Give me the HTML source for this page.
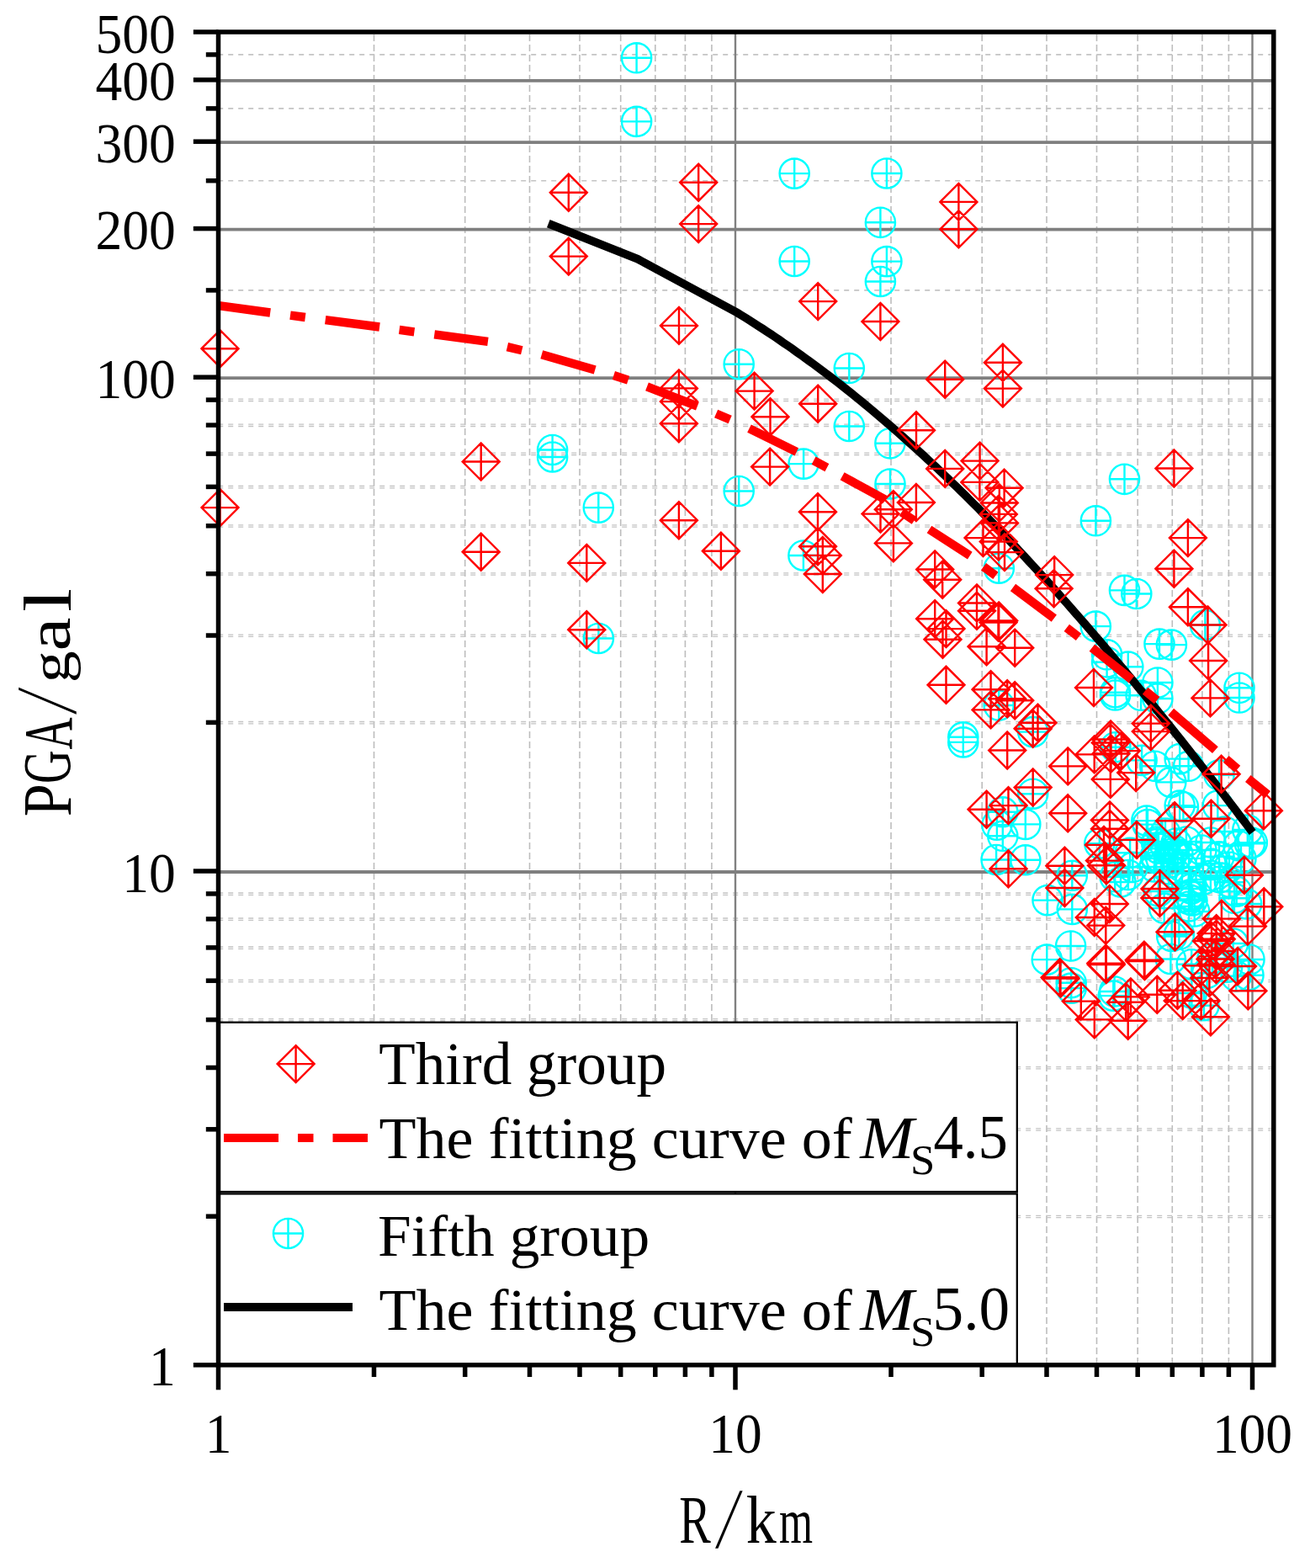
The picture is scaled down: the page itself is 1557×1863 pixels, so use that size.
<!DOCTYPE html><html><head><meta charset="utf-8"><style>html,body{margin:0;padding:0;background:#fff;}svg{display:block;}text{font-family:"Liberation Serif",serif;}</style></head><body>
<svg width="1557" height="1863" viewBox="0 0 1557 1863">
<rect x="0" y="0" width="1557" height="1863" fill="#fff"/>
<g id="grid"><line x1="444.5" y1="41.0" x2="444.5" y2="1618.8" stroke="#bdbdbd" stroke-width="1.6" stroke-dasharray="8 4"/><line x1="552.7" y1="41.0" x2="552.7" y2="1618.8" stroke="#bdbdbd" stroke-width="1.6" stroke-dasharray="8 4"/><line x1="629.5" y1="41.0" x2="629.5" y2="1618.8" stroke="#bdbdbd" stroke-width="1.6" stroke-dasharray="8 4"/><line x1="689.0" y1="41.0" x2="689.0" y2="1618.8" stroke="#bdbdbd" stroke-width="1.6" stroke-dasharray="8 4"/><line x1="737.7" y1="41.0" x2="737.7" y2="1618.8" stroke="#bdbdbd" stroke-width="1.6" stroke-dasharray="8 4"/><line x1="778.8" y1="41.0" x2="778.8" y2="1618.8" stroke="#bdbdbd" stroke-width="1.6" stroke-dasharray="8 4"/><line x1="814.4" y1="41.0" x2="814.4" y2="1618.8" stroke="#bdbdbd" stroke-width="1.6" stroke-dasharray="8 4"/><line x1="845.9" y1="41.0" x2="845.9" y2="1618.8" stroke="#bdbdbd" stroke-width="1.6" stroke-dasharray="8 4"/><line x1="1059.0" y1="41.0" x2="1059.0" y2="1618.8" stroke="#bdbdbd" stroke-width="1.6" stroke-dasharray="8 4"/><line x1="1167.2" y1="41.0" x2="1167.2" y2="1618.8" stroke="#bdbdbd" stroke-width="1.6" stroke-dasharray="8 4"/><line x1="1244.0" y1="41.0" x2="1244.0" y2="1618.8" stroke="#bdbdbd" stroke-width="1.6" stroke-dasharray="8 4"/><line x1="1303.5" y1="41.0" x2="1303.5" y2="1618.8" stroke="#bdbdbd" stroke-width="1.6" stroke-dasharray="8 4"/><line x1="1352.2" y1="41.0" x2="1352.2" y2="1618.8" stroke="#bdbdbd" stroke-width="1.6" stroke-dasharray="8 4"/><line x1="1393.3" y1="41.0" x2="1393.3" y2="1618.8" stroke="#bdbdbd" stroke-width="1.6" stroke-dasharray="8 4"/><line x1="1428.9" y1="41.0" x2="1428.9" y2="1618.8" stroke="#bdbdbd" stroke-width="1.6" stroke-dasharray="8 4"/><line x1="1460.4" y1="41.0" x2="1460.4" y2="1618.8" stroke="#bdbdbd" stroke-width="1.6" stroke-dasharray="8 4"/><line x1="259.2" y1="1444.3" x2="1510.8" y2="1444.3" stroke="#c4c4c4" stroke-width="1.3" stroke-dasharray="6 6"/><line x1="259.2" y1="1446.6" x2="1510.8" y2="1446.6" stroke="#c4c4c4" stroke-width="1.3" stroke-dasharray="6 6"/><line x1="259.2" y1="1340.9" x2="1510.8" y2="1340.9" stroke="#c4c4c4" stroke-width="1.3" stroke-dasharray="6 6"/><line x1="259.2" y1="1343.2" x2="1510.8" y2="1343.2" stroke="#c4c4c4" stroke-width="1.3" stroke-dasharray="6 6"/><line x1="259.2" y1="1267.6" x2="1510.8" y2="1267.6" stroke="#c4c4c4" stroke-width="1.3" stroke-dasharray="6 6"/><line x1="259.2" y1="1269.9" x2="1510.8" y2="1269.9" stroke="#c4c4c4" stroke-width="1.3" stroke-dasharray="6 6"/><line x1="259.2" y1="1210.7" x2="1510.8" y2="1210.7" stroke="#c4c4c4" stroke-width="1.3" stroke-dasharray="6 6"/><line x1="259.2" y1="1213.0" x2="1510.8" y2="1213.0" stroke="#c4c4c4" stroke-width="1.3" stroke-dasharray="6 6"/><line x1="259.2" y1="1164.3" x2="1510.8" y2="1164.3" stroke="#c4c4c4" stroke-width="1.3" stroke-dasharray="6 6"/><line x1="259.2" y1="1166.6" x2="1510.8" y2="1166.6" stroke="#c4c4c4" stroke-width="1.3" stroke-dasharray="6 6"/><line x1="259.2" y1="1125.0" x2="1510.8" y2="1125.0" stroke="#c4c4c4" stroke-width="1.3" stroke-dasharray="6 6"/><line x1="259.2" y1="1127.3" x2="1510.8" y2="1127.3" stroke="#c4c4c4" stroke-width="1.3" stroke-dasharray="6 6"/><line x1="259.2" y1="1091.0" x2="1510.8" y2="1091.0" stroke="#c4c4c4" stroke-width="1.3" stroke-dasharray="6 6"/><line x1="259.2" y1="1093.3" x2="1510.8" y2="1093.3" stroke="#c4c4c4" stroke-width="1.3" stroke-dasharray="6 6"/><line x1="259.2" y1="1061.0" x2="1510.8" y2="1061.0" stroke="#c4c4c4" stroke-width="1.3" stroke-dasharray="6 6"/><line x1="259.2" y1="1063.3" x2="1510.8" y2="1063.3" stroke="#c4c4c4" stroke-width="1.3" stroke-dasharray="6 6"/><line x1="259.2" y1="857.5" x2="1510.8" y2="857.5" stroke="#c4c4c4" stroke-width="1.3" stroke-dasharray="6 6"/><line x1="259.2" y1="859.8" x2="1510.8" y2="859.8" stroke="#c4c4c4" stroke-width="1.3" stroke-dasharray="6 6"/><line x1="259.2" y1="754.1" x2="1510.8" y2="754.1" stroke="#c4c4c4" stroke-width="1.3" stroke-dasharray="6 6"/><line x1="259.2" y1="756.4" x2="1510.8" y2="756.4" stroke="#c4c4c4" stroke-width="1.3" stroke-dasharray="6 6"/><line x1="259.2" y1="680.8" x2="1510.8" y2="680.8" stroke="#c4c4c4" stroke-width="1.3" stroke-dasharray="6 6"/><line x1="259.2" y1="683.1" x2="1510.8" y2="683.1" stroke="#c4c4c4" stroke-width="1.3" stroke-dasharray="6 6"/><line x1="259.2" y1="623.9" x2="1510.8" y2="623.9" stroke="#c4c4c4" stroke-width="1.3" stroke-dasharray="6 6"/><line x1="259.2" y1="626.2" x2="1510.8" y2="626.2" stroke="#c4c4c4" stroke-width="1.3" stroke-dasharray="6 6"/><line x1="259.2" y1="577.5" x2="1510.8" y2="577.5" stroke="#c4c4c4" stroke-width="1.3" stroke-dasharray="6 6"/><line x1="259.2" y1="579.8" x2="1510.8" y2="579.8" stroke="#c4c4c4" stroke-width="1.3" stroke-dasharray="6 6"/><line x1="259.2" y1="538.2" x2="1510.8" y2="538.2" stroke="#c4c4c4" stroke-width="1.3" stroke-dasharray="6 6"/><line x1="259.2" y1="540.5" x2="1510.8" y2="540.5" stroke="#c4c4c4" stroke-width="1.3" stroke-dasharray="6 6"/><line x1="259.2" y1="504.2" x2="1510.8" y2="504.2" stroke="#c4c4c4" stroke-width="1.3" stroke-dasharray="6 6"/><line x1="259.2" y1="506.5" x2="1510.8" y2="506.5" stroke="#c4c4c4" stroke-width="1.3" stroke-dasharray="6 6"/><line x1="259.2" y1="474.2" x2="1510.8" y2="474.2" stroke="#c4c4c4" stroke-width="1.3" stroke-dasharray="6 6"/><line x1="259.2" y1="476.5" x2="1510.8" y2="476.5" stroke="#c4c4c4" stroke-width="1.3" stroke-dasharray="6 6"/><line x1="259.2" y1="344.9" x2="1510.8" y2="344.9" stroke="#c4c4c4" stroke-width="1.6" stroke-dasharray="6 6"/><line x1="259.2" y1="214.7" x2="1510.8" y2="214.7" stroke="#c4c4c4" stroke-width="1.6" stroke-dasharray="6 6"/><line x1="259.2" y1="128.9" x2="1510.8" y2="128.9" stroke="#c4c4c4" stroke-width="1.6" stroke-dasharray="6 6"/><line x1="259.2" y1="64.9" x2="1510.8" y2="64.9" stroke="#c4c4c4" stroke-width="1.6" stroke-dasharray="6 6"/><line x1="874.0" y1="38.0" x2="874.0" y2="1621.8" stroke="#808080" stroke-width="2.4"/><line x1="1488.5" y1="38.0" x2="1488.5" y2="1621.8" stroke="#808080" stroke-width="2.4"/><line x1="259.5" y1="1036.0" x2="1513.8" y2="1036.0" stroke="#7f7f7f" stroke-width="3.8"/><line x1="259.5" y1="449.2" x2="1513.8" y2="449.2" stroke="#7f7f7f" stroke-width="3.8"/><line x1="259.5" y1="272.6" x2="1513.8" y2="272.6" stroke="#7f7f7f" stroke-width="3.8"/><line x1="259.5" y1="169.2" x2="1513.8" y2="169.2" stroke="#7f7f7f" stroke-width="3.8"/><line x1="259.5" y1="95.9" x2="1513.8" y2="95.9" stroke="#7f7f7f" stroke-width="3.8"/></g>
<defs><clipPath id="pc"><rect x="259.5" y="38.0" width="1254.3" height="1583.8"/></clipPath></defs>
<path d="M639.0 534.5a17.6 17.6 0 1 0 35.2 0a17.6 17.6 0 1 0 -35.2 0ZM639.0 534.5H674.2M656.6 516.9V552.1M639.0 543.0a17.6 17.6 0 1 0 35.2 0a17.6 17.6 0 1 0 -35.2 0ZM639.0 543.0H674.2M656.6 525.4V560.6M693.7 603.1a17.6 17.6 0 1 0 35.2 0a17.6 17.6 0 1 0 -35.2 0ZM693.7 603.1H728.9M711.3 585.5V620.7M693.8 758.5a17.6 17.6 0 1 0 35.2 0a17.6 17.6 0 1 0 -35.2 0ZM693.8 758.5H729.0M711.4 740.9V776.1M739.0 68.8a17.6 17.6 0 1 0 35.2 0a17.6 17.6 0 1 0 -35.2 0ZM739.0 68.8H774.2M756.6 51.2V86.4M739.0 144.4a17.6 17.6 0 1 0 35.2 0a17.6 17.6 0 1 0 -35.2 0ZM739.0 144.4H774.2M756.6 126.8V162.0M926.6 206.1a17.6 17.6 0 1 0 35.2 0a17.6 17.6 0 1 0 -35.2 0ZM926.6 206.1H961.8M944.2 188.5V223.7M926.6 310.5a17.6 17.6 0 1 0 35.2 0a17.6 17.6 0 1 0 -35.2 0ZM926.6 310.5H961.8M944.2 292.9V328.1M1036.3 206.0a17.6 17.6 0 1 0 35.2 0a17.6 17.6 0 1 0 -35.2 0ZM1036.3 206.0H1071.5M1053.9 188.4V223.6M1028.8 264.3a17.6 17.6 0 1 0 35.2 0a17.6 17.6 0 1 0 -35.2 0ZM1028.8 264.3H1064.0M1046.4 246.7V281.9M1036.3 310.6a17.6 17.6 0 1 0 35.2 0a17.6 17.6 0 1 0 -35.2 0ZM1036.3 310.6H1071.5M1053.9 293.0V328.2M1028.8 334.5a17.6 17.6 0 1 0 35.2 0a17.6 17.6 0 1 0 -35.2 0ZM1028.8 334.5H1064.0M1046.4 316.9V352.1M991.7 437.5a17.6 17.6 0 1 0 35.2 0a17.6 17.6 0 1 0 -35.2 0ZM991.7 437.5H1026.9M1009.3 419.9V455.1M991.7 506.5a17.6 17.6 0 1 0 35.2 0a17.6 17.6 0 1 0 -35.2 0ZM991.7 506.5H1026.9M1009.3 488.9V524.1M860.6 432.7a17.6 17.6 0 1 0 35.2 0a17.6 17.6 0 1 0 -35.2 0ZM860.6 432.7H895.8M878.2 415.1V450.3M860.6 583.5a17.6 17.6 0 1 0 35.2 0a17.6 17.6 0 1 0 -35.2 0ZM860.6 583.5H895.8M878.2 565.9V601.1M937.5 551.1a17.6 17.6 0 1 0 35.2 0a17.6 17.6 0 1 0 -35.2 0ZM937.5 551.1H972.7M955.1 533.5V568.7M937.3 660.0a17.6 17.6 0 1 0 35.2 0a17.6 17.6 0 1 0 -35.2 0ZM937.3 660.0H972.5M954.9 642.4V677.6M1040.3 526.8a17.6 17.6 0 1 0 35.2 0a17.6 17.6 0 1 0 -35.2 0ZM1040.3 526.8H1075.5M1057.9 509.2V544.4M1040.4 575.0a17.6 17.6 0 1 0 35.2 0a17.6 17.6 0 1 0 -35.2 0ZM1040.4 575.0H1075.6M1058.0 557.4V592.6M1169.7 675.2a17.6 17.6 0 1 0 35.2 0a17.6 17.6 0 1 0 -35.2 0ZM1169.7 675.2H1204.9M1187.3 657.6V692.8M1318.9 569.3a17.6 17.6 0 1 0 35.2 0a17.6 17.6 0 1 0 -35.2 0ZM1318.9 569.3H1354.1M1336.5 551.7V586.9M1284.8 618.8a17.6 17.6 0 1 0 35.2 0a17.6 17.6 0 1 0 -35.2 0ZM1284.8 618.8H1320.0M1302.4 601.2V636.4M1318.9 701.4a17.6 17.6 0 1 0 35.2 0a17.6 17.6 0 1 0 -35.2 0ZM1318.9 701.4H1354.1M1336.5 683.8V719.0M1333.2 705.5a17.6 17.6 0 1 0 35.2 0a17.6 17.6 0 1 0 -35.2 0ZM1333.2 705.5H1368.4M1350.8 687.9V723.1M1414.8 742.5a17.6 17.6 0 1 0 35.2 0a17.6 17.6 0 1 0 -35.2 0ZM1414.8 742.5H1450.0M1432.4 724.9V760.1M1284.7 744.1a17.6 17.6 0 1 0 35.2 0a17.6 17.6 0 1 0 -35.2 0ZM1284.7 744.1H1319.9M1302.3 726.5V761.7M1360.4 765.1a17.6 17.6 0 1 0 35.2 0a17.6 17.6 0 1 0 -35.2 0ZM1360.4 765.1H1395.6M1378.0 747.5V782.7M1374.8 766.1a17.6 17.6 0 1 0 35.2 0a17.6 17.6 0 1 0 -35.2 0ZM1374.8 766.1H1410.0M1392.4 748.5V783.7M1169.6 838.0a17.6 17.6 0 1 0 35.2 0a17.6 17.6 0 1 0 -35.2 0ZM1169.6 838.0H1204.8M1187.2 820.4V855.6M1127.2 875.8a17.6 17.6 0 1 0 35.2 0a17.6 17.6 0 1 0 -35.2 0ZM1127.2 875.8H1162.4M1144.8 858.2V893.4M1127.2 881.9a17.6 17.6 0 1 0 35.2 0a17.6 17.6 0 1 0 -35.2 0ZM1127.2 881.9H1162.4M1144.8 864.3V899.5M1210.1 869.6a17.6 17.6 0 1 0 35.2 0a17.6 17.6 0 1 0 -35.2 0ZM1210.1 869.6H1245.3M1227.7 852.0V887.2M1210.1 943.2a17.6 17.6 0 1 0 35.2 0a17.6 17.6 0 1 0 -35.2 0ZM1210.1 943.2H1245.3M1227.7 925.6V960.8M1174.2 964.8a17.6 17.6 0 1 0 35.2 0a17.6 17.6 0 1 0 -35.2 0ZM1174.2 964.8H1209.4M1191.8 947.2V982.4M1167.3 980.2a17.6 17.6 0 1 0 35.2 0a17.6 17.6 0 1 0 -35.2 0ZM1167.3 980.2H1202.5M1184.9 962.6V997.8M1201.2 979.4a17.6 17.6 0 1 0 35.2 0a17.6 17.6 0 1 0 -35.2 0ZM1201.2 979.4H1236.4M1218.8 961.8V997.0M1174.2 993.3a17.6 17.6 0 1 0 35.2 0a17.6 17.6 0 1 0 -35.2 0ZM1174.2 993.3H1209.4M1191.8 975.7V1010.9M1166.5 1021.5a17.6 17.6 0 1 0 35.2 0a17.6 17.6 0 1 0 -35.2 0ZM1166.5 1021.5H1201.7M1184.1 1003.9V1039.1M1201.2 1021.8a17.6 17.6 0 1 0 35.2 0a17.6 17.6 0 1 0 -35.2 0ZM1201.2 1021.8H1236.4M1218.8 1004.2V1039.4M1227.4 1069.6a17.6 17.6 0 1 0 35.2 0a17.6 17.6 0 1 0 -35.2 0ZM1227.4 1069.6H1262.6M1245.0 1052.0V1087.2M1256.7 1040.3a17.6 17.6 0 1 0 35.2 0a17.6 17.6 0 1 0 -35.2 0ZM1256.7 1040.3H1291.9M1274.3 1022.7V1057.9M1256.7 1080.4a17.6 17.6 0 1 0 35.2 0a17.6 17.6 0 1 0 -35.2 0ZM1256.7 1080.4H1291.9M1274.3 1062.8V1098.0M1307.6 1041.8a17.6 17.6 0 1 0 35.2 0a17.6 17.6 0 1 0 -35.2 0ZM1307.6 1041.8H1342.8M1325.2 1024.2V1059.4M1328.8 1030.3a17.6 17.6 0 1 0 35.2 0a17.6 17.6 0 1 0 -35.2 0ZM1328.8 1030.3H1364.0M1346.4 1012.7V1047.9M1255.0 1124.0a17.6 17.6 0 1 0 35.2 0a17.6 17.6 0 1 0 -35.2 0ZM1255.0 1124.0H1290.2M1272.6 1106.4V1141.6M1226.7 1140.1a17.6 17.6 0 1 0 35.2 0a17.6 17.6 0 1 0 -35.2 0ZM1226.7 1140.1H1261.9M1244.3 1122.5V1157.7M1255.6 1167.7a17.6 17.6 0 1 0 35.2 0a17.6 17.6 0 1 0 -35.2 0ZM1255.6 1167.7H1290.8M1273.2 1150.1V1185.3M1255.6 1174.1a17.6 17.6 0 1 0 35.2 0a17.6 17.6 0 1 0 -35.2 0ZM1255.6 1174.1H1290.8M1273.2 1156.5V1191.7M1307.0 1178.0a17.6 17.6 0 1 0 35.2 0a17.6 17.6 0 1 0 -35.2 0ZM1307.0 1178.0H1342.2M1324.6 1160.4V1195.6M1305.7 1183.1a17.6 17.6 0 1 0 35.2 0a17.6 17.6 0 1 0 -35.2 0ZM1305.7 1183.1H1340.9M1323.3 1165.5V1200.7M1366.1 1079.1a17.6 17.6 0 1 0 35.2 0a17.6 17.6 0 1 0 -35.2 0ZM1366.1 1079.1H1401.3M1383.7 1061.5V1096.7M1373.8 1139.5a17.6 17.6 0 1 0 35.2 0a17.6 17.6 0 1 0 -35.2 0ZM1373.8 1139.5H1409.0M1391.4 1121.9V1157.1M1375.1 1112.5a17.6 17.6 0 1 0 35.2 0a17.6 17.6 0 1 0 -35.2 0ZM1375.1 1112.5H1410.3M1392.7 1094.9V1130.1M1308.3 887.7a17.6 17.6 0 1 0 35.2 0a17.6 17.6 0 1 0 -35.2 0ZM1308.3 887.7H1343.5M1325.9 870.1V905.3M1339.5 903.4a17.6 17.6 0 1 0 35.2 0a17.6 17.6 0 1 0 -35.2 0ZM1339.5 903.4H1374.7M1357.1 885.8V921.0M1355.1 910.3a17.6 17.6 0 1 0 35.2 0a17.6 17.6 0 1 0 -35.2 0ZM1355.1 910.3H1390.3M1372.7 892.7V927.9M1374.2 929.4a17.6 17.6 0 1 0 35.2 0a17.6 17.6 0 1 0 -35.2 0ZM1374.2 929.4H1409.4M1391.8 911.8V947.0M1384.6 901.6a17.6 17.6 0 1 0 35.2 0a17.6 17.6 0 1 0 -35.2 0ZM1384.6 901.6H1419.8M1402.2 884.0V919.2M1395.0 910.3a17.6 17.6 0 1 0 35.2 0a17.6 17.6 0 1 0 -35.2 0ZM1395.0 910.3H1430.2M1412.6 892.7V927.9M1384.6 957.1a17.6 17.6 0 1 0 35.2 0a17.6 17.6 0 1 0 -35.2 0ZM1384.6 957.1H1419.8M1402.2 939.5V974.7M1431.4 920.7a17.6 17.6 0 1 0 35.2 0a17.6 17.6 0 1 0 -35.2 0ZM1431.4 920.7H1466.6M1449.0 903.1V938.3M1429.7 957.1a17.6 17.6 0 1 0 35.2 0a17.6 17.6 0 1 0 -35.2 0ZM1429.7 957.1H1464.9M1447.3 939.5V974.7M1346.4 979.6a17.6 17.6 0 1 0 35.2 0a17.6 17.6 0 1 0 -35.2 0ZM1346.4 979.6H1381.6M1364.0 962.0V997.2M1467.8 1002.2a17.6 17.6 0 1 0 35.2 0a17.6 17.6 0 1 0 -35.2 0ZM1467.8 1002.2H1503.0M1485.4 984.6V1019.8M1289.2 1002.2a17.6 17.6 0 1 0 35.2 0a17.6 17.6 0 1 0 -35.2 0ZM1289.2 1002.2H1324.4M1306.8 984.6V1019.8M1357.4 1000.0a17.6 17.6 0 1 0 35.2 0a17.6 17.6 0 1 0 -35.2 0ZM1357.4 1000.0H1392.6M1375.0 982.4V1017.6M1367.4 1005.0a17.6 17.6 0 1 0 35.2 0a17.6 17.6 0 1 0 -35.2 0ZM1367.4 1005.0H1402.6M1385.0 987.4V1022.6M1377.4 1010.0a17.6 17.6 0 1 0 35.2 0a17.6 17.6 0 1 0 -35.2 0ZM1377.4 1010.0H1412.6M1395.0 992.4V1027.6M1362.4 1020.0a17.6 17.6 0 1 0 35.2 0a17.6 17.6 0 1 0 -35.2 0ZM1362.4 1020.0H1397.6M1380.0 1002.4V1037.6M1372.4 1025.0a17.6 17.6 0 1 0 35.2 0a17.6 17.6 0 1 0 -35.2 0ZM1372.4 1025.0H1407.6M1390.0 1007.4V1042.6M1382.4 1015.0a17.6 17.6 0 1 0 35.2 0a17.6 17.6 0 1 0 -35.2 0ZM1382.4 1015.0H1417.6M1400.0 997.4V1032.6M1387.4 1030.0a17.6 17.6 0 1 0 35.2 0a17.6 17.6 0 1 0 -35.2 0ZM1387.4 1030.0H1422.6M1405.0 1012.4V1047.6M1354.4 1030.0a17.6 17.6 0 1 0 35.2 0a17.6 17.6 0 1 0 -35.2 0ZM1354.4 1030.0H1389.6M1372.0 1012.4V1047.6M1392.4 1000.0a17.6 17.6 0 1 0 35.2 0a17.6 17.6 0 1 0 -35.2 0ZM1392.4 1000.0H1427.6M1410.0 982.4V1017.6M1367.4 990.0a17.6 17.6 0 1 0 35.2 0a17.6 17.6 0 1 0 -35.2 0ZM1367.4 990.0H1402.6M1385.0 972.4V1007.6M1345.2 975.1a17.6 17.6 0 1 0 35.2 0a17.6 17.6 0 1 0 -35.2 0ZM1345.2 975.1H1380.4M1362.8 957.5V992.7M1388.8 958.7a17.6 17.6 0 1 0 35.2 0a17.6 17.6 0 1 0 -35.2 0ZM1388.8 958.7H1424.0M1406.4 941.1V976.3M1395.4 1019.9a17.6 17.6 0 1 0 35.2 0a17.6 17.6 0 1 0 -35.2 0ZM1395.4 1019.9H1430.6M1413.0 1002.3V1037.5M1431.4 1017.7a17.6 17.6 0 1 0 35.2 0a17.6 17.6 0 1 0 -35.2 0ZM1431.4 1017.7H1466.6M1449.0 1000.1V1035.3M1432.4 1042.8a17.6 17.6 0 1 0 35.2 0a17.6 17.6 0 1 0 -35.2 0ZM1432.4 1042.8H1467.6M1450.0 1025.2V1060.4M1454.3 1004.6a17.6 17.6 0 1 0 35.2 0a17.6 17.6 0 1 0 -35.2 0ZM1454.3 1004.6H1489.5M1471.9 987.0V1022.2M1470.7 1001.3a17.6 17.6 0 1 0 35.2 0a17.6 17.6 0 1 0 -35.2 0ZM1470.7 1001.3H1505.9M1488.3 983.7V1018.9M1452.1 1059.2a17.6 17.6 0 1 0 35.2 0a17.6 17.6 0 1 0 -35.2 0ZM1452.1 1059.2H1487.3M1469.7 1041.6V1076.8M1323.3 1039.5a17.6 17.6 0 1 0 35.2 0a17.6 17.6 0 1 0 -35.2 0ZM1323.3 1039.5H1358.5M1340.9 1021.9V1057.1M1325.5 1013.3a17.6 17.6 0 1 0 35.2 0a17.6 17.6 0 1 0 -35.2 0ZM1325.5 1013.3H1360.7M1343.1 995.7V1030.9M1314.4 1048.0a17.6 17.6 0 1 0 35.2 0a17.6 17.6 0 1 0 -35.2 0ZM1314.4 1048.0H1349.6M1332.0 1030.4V1065.6M1397.4 1064.6a17.6 17.6 0 1 0 35.2 0a17.6 17.6 0 1 0 -35.2 0ZM1397.4 1064.6H1432.6M1415.0 1047.0V1082.2M1359.4 1059.0a17.6 17.6 0 1 0 35.2 0a17.6 17.6 0 1 0 -35.2 0ZM1359.4 1059.0H1394.6M1377.0 1041.4V1076.6M1298.0 777.8a17.6 17.6 0 1 0 35.2 0a17.6 17.6 0 1 0 -35.2 0ZM1298.0 777.8H1333.2M1315.6 760.2V795.4M1298.0 786.8a17.6 17.6 0 1 0 35.2 0a17.6 17.6 0 1 0 -35.2 0ZM1298.0 786.8H1333.2M1315.6 769.2V804.4M1323.2 792.2a17.6 17.6 0 1 0 35.2 0a17.6 17.6 0 1 0 -35.2 0ZM1323.2 792.2H1358.4M1340.8 774.6V809.8M1358.3 811.0a17.6 17.6 0 1 0 35.2 0a17.6 17.6 0 1 0 -35.2 0ZM1358.3 811.0H1393.5M1375.9 793.4V828.6M1358.3 830.0a17.6 17.6 0 1 0 35.2 0a17.6 17.6 0 1 0 -35.2 0ZM1358.3 830.0H1393.5M1375.9 812.4V847.6M1307.9 822.7a17.6 17.6 0 1 0 35.2 0a17.6 17.6 0 1 0 -35.2 0ZM1307.9 822.7H1343.1M1325.5 805.1V840.3M1307.9 826.0a17.6 17.6 0 1 0 35.2 0a17.6 17.6 0 1 0 -35.2 0ZM1307.9 826.0H1343.1M1325.5 808.4V843.6M1338.5 826.3a17.6 17.6 0 1 0 35.2 0a17.6 17.6 0 1 0 -35.2 0ZM1338.5 826.3H1373.7M1356.1 808.7V843.9M1455.4 817.3a17.6 17.6 0 1 0 35.2 0a17.6 17.6 0 1 0 -35.2 0ZM1455.4 817.3H1490.6M1473.0 799.7V834.9M1455.4 829.0a17.6 17.6 0 1 0 35.2 0a17.6 17.6 0 1 0 -35.2 0ZM1455.4 829.0H1490.6M1473.0 811.4V846.6M1467.4 1140.0a17.6 17.6 0 1 0 35.2 0a17.6 17.6 0 1 0 -35.2 0ZM1467.4 1140.0H1502.6M1485.0 1122.4V1157.6M1466.4 1158.7a17.6 17.6 0 1 0 35.2 0a17.6 17.6 0 1 0 -35.2 0ZM1466.4 1158.7H1501.6M1484.0 1141.1V1176.3M1398.8 1180.0a17.6 17.6 0 1 0 35.2 0a17.6 17.6 0 1 0 -35.2 0ZM1398.8 1180.0H1434.0M1416.4 1162.4V1197.6M1413.4 1194.7a17.6 17.6 0 1 0 35.2 0a17.6 17.6 0 1 0 -35.2 0ZM1413.4 1194.7H1448.6M1431.0 1177.1V1212.3M1395.4 1068.5a17.6 17.6 0 1 0 35.2 0a17.6 17.6 0 1 0 -35.2 0ZM1395.4 1068.5H1430.6M1413.0 1050.9V1086.1M1402.1 1083.0a17.6 17.6 0 1 0 35.2 0a17.6 17.6 0 1 0 -35.2 0ZM1402.1 1083.0H1437.3M1419.7 1065.4V1100.6M1449.4 1067.3a17.6 17.6 0 1 0 35.2 0a17.6 17.6 0 1 0 -35.2 0ZM1449.4 1067.3H1484.6M1467.0 1049.7V1084.9M1464.1 1074.0a17.6 17.6 0 1 0 35.2 0a17.6 17.6 0 1 0 -35.2 0ZM1464.1 1074.0H1499.3M1481.7 1056.4V1091.6M1421.3 1040.3a17.6 17.6 0 1 0 35.2 0a17.6 17.6 0 1 0 -35.2 0ZM1421.3 1040.3H1456.5M1438.9 1022.7V1057.9M1443.9 1048.2a17.6 17.6 0 1 0 35.2 0a17.6 17.6 0 1 0 -35.2 0ZM1443.9 1048.2H1479.1M1461.5 1030.6V1065.8M1423.4 1138.6a17.6 17.6 0 1 0 35.2 0a17.6 17.6 0 1 0 -35.2 0ZM1423.4 1138.6H1458.6M1441.0 1121.0V1156.2M1441.0 1149.2a17.6 17.6 0 1 0 35.2 0a17.6 17.6 0 1 0 -35.2 0ZM1441.0 1149.2H1476.2M1458.6 1131.6V1166.8M1417.0 1156.3a17.6 17.6 0 1 0 35.2 0a17.6 17.6 0 1 0 -35.2 0ZM1417.0 1156.3H1452.2M1434.6 1138.7V1173.9M1398.6 1145.7a17.6 17.6 0 1 0 35.2 0a17.6 17.6 0 1 0 -35.2 0ZM1398.6 1145.7H1433.8M1416.2 1128.1V1163.3M1451.6 1159.8a17.6 17.6 0 1 0 35.2 0a17.6 17.6 0 1 0 -35.2 0ZM1451.6 1159.8H1486.8M1469.2 1142.2V1177.4M1448.1 1121.0a17.6 17.6 0 1 0 35.2 0a17.6 17.6 0 1 0 -35.2 0ZM1448.1 1121.0H1483.3M1465.7 1103.4V1138.6M1383.8 1110.3a17.6 17.6 0 1 0 35.2 0a17.6 17.6 0 1 0 -35.2 0ZM1383.8 1110.3H1419.0M1401.4 1092.7V1127.9M1421.4 1001.0a17.6 17.6 0 1 0 35.2 0a17.6 17.6 0 1 0 -35.2 0ZM1421.4 1001.0H1456.6M1439.0 983.4V1018.6M1437.9 988.0a17.6 17.6 0 1 0 35.2 0a17.6 17.6 0 1 0 -35.2 0ZM1437.9 988.0H1473.1M1455.5 970.4V1005.6M1465.2 986.0a17.6 17.6 0 1 0 35.2 0a17.6 17.6 0 1 0 -35.2 0ZM1465.2 986.0H1500.4M1482.8 968.4V1003.6M1421.4 1026.0a17.6 17.6 0 1 0 35.2 0a17.6 17.6 0 1 0 -35.2 0ZM1421.4 1026.0H1456.6M1439.0 1008.4V1043.6M1443.4 1030.0a17.6 17.6 0 1 0 35.2 0a17.6 17.6 0 1 0 -35.2 0ZM1443.4 1030.0H1478.6M1461.0 1012.4V1047.6M1457.4 1020.0a17.6 17.6 0 1 0 35.2 0a17.6 17.6 0 1 0 -35.2 0ZM1457.4 1020.0H1492.6M1475.0 1002.4V1037.6M1410.4 1010.0a17.6 17.6 0 1 0 35.2 0a17.6 17.6 0 1 0 -35.2 0ZM1410.4 1010.0H1445.6M1428.0 992.4V1027.6M1412.4 1045.0a17.6 17.6 0 1 0 35.2 0a17.6 17.6 0 1 0 -35.2 0ZM1412.4 1045.0H1447.6M1430.0 1027.4V1062.6M1367.4 1005.2a17.6 17.6 0 1 0 35.2 0a17.6 17.6 0 1 0 -35.2 0ZM1367.4 1005.2H1402.6M1385.0 987.6V1022.8M1380.4 1002.0a17.6 17.6 0 1 0 35.2 0a17.6 17.6 0 1 0 -35.2 0ZM1380.4 1002.0H1415.6M1398.0 984.4V1019.6M1375.8 1014.0a17.6 17.6 0 1 0 35.2 0a17.6 17.6 0 1 0 -35.2 0ZM1375.8 1014.0H1411.0M1393.4 996.4V1031.6M1356.7 1019.8a17.6 17.6 0 1 0 35.2 0a17.6 17.6 0 1 0 -35.2 0ZM1356.7 1019.8H1391.9M1374.3 1002.2V1037.4M1355.9 1016.8a17.6 17.6 0 1 0 35.2 0a17.6 17.6 0 1 0 -35.2 0ZM1355.9 1016.8H1391.1M1373.5 999.2V1034.4M1357.2 1002.7a17.6 17.6 0 1 0 35.2 0a17.6 17.6 0 1 0 -35.2 0ZM1357.2 1002.7H1392.4M1374.8 985.1V1020.3M1371.4 1032.9a17.6 17.6 0 1 0 35.2 0a17.6 17.6 0 1 0 -35.2 0ZM1371.4 1032.9H1406.6M1389.0 1015.3V1050.5M1359.4 1008.2a17.6 17.6 0 1 0 35.2 0a17.6 17.6 0 1 0 -35.2 0ZM1359.4 1008.2H1394.6M1377.0 990.6V1025.8M1379.5 1037.9a17.6 17.6 0 1 0 35.2 0a17.6 17.6 0 1 0 -35.2 0ZM1379.5 1037.9H1414.7M1397.1 1020.3V1055.5M1397.4 1048.0a17.6 17.6 0 1 0 35.2 0a17.6 17.6 0 1 0 -35.2 0ZM1397.4 1048.0H1432.6M1415.0 1030.4V1065.6M1398.4 1056.0a17.6 17.6 0 1 0 35.2 0a17.6 17.6 0 1 0 -35.2 0ZM1398.4 1056.0H1433.6M1416.0 1038.4V1073.6M1396.4 1063.0a17.6 17.6 0 1 0 35.2 0a17.6 17.6 0 1 0 -35.2 0ZM1396.4 1063.0H1431.6M1414.0 1045.4V1080.6M1399.4 1070.0a17.6 17.6 0 1 0 35.2 0a17.6 17.6 0 1 0 -35.2 0ZM1399.4 1070.0H1434.6M1417.0 1052.4V1087.6M1395.4 1077.0a17.6 17.6 0 1 0 35.2 0a17.6 17.6 0 1 0 -35.2 0ZM1395.4 1077.0H1430.6M1413.0 1059.4V1094.6" fill="none" stroke="#00ffff" stroke-width="2.4"/>
<polyline points="651.8,265.6 757.8,307.7 876.2,371.5 881.2,374.6 886.2,377.7 891.3,380.9 896.3,384.1 901.3,387.3 906.3,390.5 911.3,393.8 916.4,397.2 921.4,400.5 926.4,403.9 931.4,407.4 936.4,410.8 941.5,414.3 946.5,417.9 951.5,421.4 956.5,425.1 961.5,428.7 966.6,432.4 971.6,436.1 976.6,439.9 981.6,443.6 986.7,447.5 991.7,451.3 996.7,455.2 1001.7,459.2 1006.7,463.1 1011.8,467.1 1016.8,471.2 1021.8,475.3 1026.8,479.4 1031.8,483.5 1036.9,487.7 1041.9,491.9 1046.9,496.2 1051.9,500.5 1056.9,504.8 1062.0,509.2 1067.0,513.6 1072.0,518.0 1077.0,522.5 1082.0,527.0 1087.1,531.5 1092.1,536.1 1097.1,540.7 1102.1,545.3 1107.1,550.0 1112.2,554.7 1117.2,559.5 1122.2,564.2 1127.2,569.0 1132.2,573.9 1137.3,578.8 1142.3,583.7 1147.3,588.6 1152.3,593.6 1157.3,598.6 1162.4,603.6 1167.4,608.7 1172.4,613.8 1177.4,618.9 1182.5,624.1 1187.5,629.3 1192.5,634.5 1197.5,639.8 1202.5,645.1 1207.6,650.4 1212.6,655.8 1217.6,661.1 1222.6,666.6 1227.6,672.0 1232.7,677.5 1237.7,683.0 1242.7,688.5 1247.7,694.0 1252.7,699.6 1257.8,705.2 1262.8,710.9 1267.8,716.5 1272.8,722.2 1277.8,728.0 1282.9,733.7 1287.9,739.5 1292.9,745.3 1297.9,751.1 1302.9,757.0 1308.0,762.8 1313.0,768.7 1318.0,774.7 1323.0,780.6 1328.0,786.6 1333.1,792.6 1338.1,798.6 1343.1,804.7 1348.1,810.7 1353.1,816.8 1358.2,822.9 1363.2,829.1 1368.2,835.2 1373.2,841.4 1378.2,847.6 1383.3,853.8 1388.3,860.1 1393.3,866.4 1398.3,872.6 1403.4,878.9 1408.4,885.3 1413.4,891.6 1418.4,898.0 1423.4,904.4 1428.5,910.8 1433.5,917.2 1438.5,923.6 1443.5,930.1 1448.5,936.6 1453.6,943.1 1458.6,949.6 1463.6,956.1 1468.6,962.6 1473.6,969.2 1478.7,975.8 1483.7,982.4 1488.7,989.0" fill="none" stroke="#000" stroke-width="9.8" stroke-linejoin="miter" stroke-linecap="butt"/>
<path d="M239.5 414.2L261.5 392.2L283.5 414.2L261.5 436.2ZM239.5 414.2H283.5M261.5 392.2V436.2M239.5 603.1L261.5 581.1L283.5 603.1L261.5 625.1ZM239.5 603.1H283.5M261.5 581.1V625.1M549.7 548.5L571.7 526.5L593.7 548.5L571.7 570.5ZM549.7 548.5H593.7M571.7 526.5V570.5M549.7 655.7L571.7 633.7L593.7 655.7L571.7 677.7ZM549.7 655.7H593.7M571.7 633.7V677.7M675.3 668.9L697.3 646.9L719.3 668.9L697.3 690.9ZM675.3 668.9H719.3M697.3 646.9V690.9M675.3 748.2L697.3 726.2L719.3 748.2L697.3 770.2ZM675.3 748.2H719.3M697.3 726.2V770.2M653.8 228.8L675.8 206.8L697.8 228.8L675.8 250.8ZM653.8 228.8H697.8M675.8 206.8V250.8M653.8 304.6L675.8 282.6L697.8 304.6L675.8 326.6ZM653.8 304.6H697.8M675.8 282.6V326.6M808.2 216.7L830.2 194.7L852.2 216.7L830.2 238.7ZM808.2 216.7H852.2M830.2 194.7V238.7M808.2 266.1L830.2 244.1L852.2 266.1L830.2 288.1ZM808.2 266.1H852.2M830.2 244.1V288.1M950.2 358.1L972.2 336.1L994.2 358.1L972.2 380.1ZM950.2 358.1H994.2M972.2 336.1V380.1M785.0 386.9L807.0 364.9L829.0 386.9L807.0 408.9ZM785.0 386.9H829.0M807.0 364.9V408.9M1117.4 239.9L1139.4 217.9L1161.4 239.9L1139.4 261.9ZM1117.4 239.9H1161.4M1139.4 217.9V261.9M1117.4 272.3L1139.4 250.3L1161.4 272.3L1139.4 294.3ZM1117.4 272.3H1161.4M1139.4 250.3V294.3M1024.4 382.0L1046.4 360.0L1068.4 382.0L1046.4 404.0ZM1024.4 382.0H1068.4M1046.4 360.0V404.0M1101.2 450.7L1123.2 428.7L1145.2 450.7L1123.2 472.7ZM1101.2 450.7H1145.2M1123.2 428.7V472.7M1169.9 430.8L1191.9 408.8L1213.9 430.8L1191.9 452.8ZM1169.9 430.8H1213.9M1191.9 408.8V452.8M1169.9 461.6L1191.9 439.6L1213.9 461.6L1191.9 483.6ZM1169.9 461.6H1213.9M1191.9 439.6V483.6M950.2 479.7L972.2 457.7L994.2 479.7L972.2 501.7ZM950.2 479.7H994.2M972.2 457.7V501.7M893.5 495.2L915.5 473.2L937.5 495.2L915.5 517.2ZM893.5 495.2H937.5M915.5 473.2V517.2M1067.0 511.3L1089.0 489.3L1111.0 511.3L1089.0 533.3ZM1067.0 511.3H1111.0M1089.0 489.3V533.3M784.9 461.4L806.9 439.4L828.9 461.4L806.9 483.4ZM784.9 461.4H828.9M806.9 439.4V483.4M784.9 477.1L806.9 455.1L828.9 477.1L806.9 499.1ZM784.9 477.1H828.9M806.9 455.1V499.1M784.9 503.2L806.9 481.2L828.9 503.2L806.9 525.2ZM784.9 503.2H828.9M806.9 481.2V525.2M874.6 464.6L896.6 442.6L918.6 464.6L896.6 486.6ZM874.6 464.6H918.6M896.6 442.6V486.6M893.1 554.6L915.1 532.6L937.1 554.6L915.1 576.6ZM893.1 554.6H937.1M915.1 532.6V576.6M784.9 618.2L806.9 596.2L828.9 618.2L806.9 640.2ZM784.9 618.2H828.9M806.9 596.2V640.2M834.9 654.7L856.9 632.7L878.9 654.7L856.9 676.7ZM834.9 654.7H878.9M856.9 632.7V676.7M950.0 608.2L972.0 586.2L994.0 608.2L972.0 630.2ZM950.0 608.2H994.0M972.0 586.2V630.2M950.0 649.3L972.0 627.3L994.0 649.3L972.0 671.3ZM950.0 649.3H994.0M972.0 627.3V671.3M955.8 659.9L977.8 637.9L999.8 659.9L977.8 681.9ZM955.8 659.9H999.8M977.8 637.9V681.9M955.8 682.0L977.8 660.0L999.8 682.0L977.8 704.0ZM955.8 682.0H999.8M977.8 660.0V704.0M1024.5 610.6L1046.5 588.6L1068.5 610.6L1046.5 632.6ZM1024.5 610.6H1068.5M1046.5 588.6V632.6M1039.8 605.3L1061.8 583.3L1083.8 605.3L1061.8 627.3ZM1039.8 605.3H1083.8M1061.8 583.3V627.3M1066.9 597.0L1088.9 575.0L1110.9 597.0L1088.9 619.0ZM1066.9 597.0H1110.9M1088.9 575.0V619.0M1039.9 645.4L1061.9 623.4L1083.9 645.4L1061.9 667.4ZM1039.9 645.4H1083.9M1061.9 623.4V667.4M1089.2 676.5L1111.2 654.5L1133.2 676.5L1111.2 698.5ZM1089.2 676.5H1133.2M1111.2 654.5V698.5M1098.2 688.7L1120.2 666.7L1142.2 688.7L1120.2 710.7ZM1098.2 688.7H1142.2M1120.2 666.7V710.7M1101.2 556.9L1123.2 534.9L1145.2 556.9L1123.2 578.9ZM1101.2 556.9H1145.2M1123.2 534.9V578.9M1142.6 547.6L1164.6 525.6L1186.6 547.6L1164.6 569.6ZM1142.6 547.6H1186.6M1164.6 525.6V569.6M1142.4 572.9L1164.4 550.9L1186.4 572.9L1164.4 594.9ZM1142.4 572.9H1186.4M1164.4 550.9V594.9M1171.6 579.7L1193.6 557.7L1215.6 579.7L1193.6 601.7ZM1171.6 579.7H1215.6M1193.6 557.7V601.7M1165.8 597.5L1187.8 575.5L1209.8 597.5L1187.8 619.5ZM1165.8 597.5H1209.8M1187.8 575.5V619.5M1164.8 610.9L1186.8 588.9L1208.8 610.9L1186.8 632.9ZM1164.8 610.9H1208.8M1186.8 588.9V632.9M1166.0 621.4L1188.0 599.4L1210.0 621.4L1188.0 643.4ZM1166.0 621.4H1210.0M1188.0 599.4V643.4M1146.5 639.1L1168.5 617.1L1190.5 639.1L1168.5 661.1ZM1146.5 639.1H1190.5M1168.5 617.1V661.1M1164.8 643.5L1186.8 621.5L1208.8 643.5L1186.8 665.5ZM1164.8 643.5H1208.8M1186.8 621.5V665.5M1172.0 656.1L1194.0 634.1L1216.0 656.1L1194.0 678.1ZM1172.0 656.1H1216.0M1194.0 634.1V678.1M1231.2 683.1L1253.2 661.1L1275.2 683.1L1253.2 705.1ZM1231.2 683.1H1275.2M1253.2 661.1V705.1M1373.4 556.5L1395.4 534.5L1417.4 556.5L1395.4 578.5ZM1373.4 556.5H1417.4M1395.4 534.5V578.5M1389.9 639.1L1411.9 617.1L1433.9 639.1L1411.9 661.1ZM1389.9 639.1H1433.9M1411.9 617.1V661.1M1373.4 675.7L1395.4 653.7L1417.4 675.7L1395.4 697.7ZM1373.4 675.7H1417.4M1395.4 653.7V697.7M1230.6 699.3L1252.6 677.3L1274.6 699.3L1252.6 721.3ZM1230.6 699.3H1274.6M1252.6 677.3V721.3M1389.9 721.3L1411.9 699.3L1433.9 721.3L1411.9 743.3ZM1389.9 721.3H1433.9M1411.9 699.3V743.3M1413.5 742.5L1435.5 720.5L1457.5 742.5L1435.5 764.5ZM1413.5 742.5H1457.5M1435.5 720.5V764.5M1139.0 716.5L1161.0 694.5L1183.0 716.5L1161.0 738.5ZM1139.0 716.5H1183.0M1161.0 694.5V738.5M1139.0 725.8L1161.0 703.8L1183.0 725.8L1161.0 747.8ZM1139.0 725.8H1183.0M1161.0 703.8V747.8M1089.2 735.2L1111.2 713.2L1133.2 735.2L1111.2 757.2ZM1089.2 735.2H1133.2M1111.2 713.2V757.2M1102.5 747.1L1124.5 725.1L1146.5 747.1L1124.5 769.1ZM1102.5 747.1H1146.5M1124.5 725.1V769.1M1098.5 759.7L1120.5 737.7L1142.5 759.7L1120.5 781.7ZM1098.5 759.7H1142.5M1120.5 737.7V781.7M1165.2 737.5L1187.2 715.5L1209.2 737.5L1187.2 759.5ZM1165.2 737.5H1209.2M1187.2 715.5V759.5M1164.5 739.5L1186.5 717.5L1208.5 739.5L1186.5 761.5ZM1164.5 739.5H1208.5M1186.5 717.5V761.5M1150.6 768.2L1172.6 746.2L1194.6 768.2L1172.6 790.2ZM1150.6 768.2H1194.6M1172.6 746.2V790.2M1184.2 769.7L1206.2 747.7L1228.2 769.7L1206.2 791.7ZM1184.2 769.7H1228.2M1206.2 747.7V791.7M1102.5 813.8L1124.5 791.8L1146.5 813.8L1124.5 835.8ZM1102.5 813.8H1146.5M1124.5 791.8V835.8M1155.6 819.2L1177.6 797.2L1199.6 819.2L1177.6 841.2ZM1155.6 819.2H1199.6M1177.6 797.2V841.2M1175.2 830.3L1197.2 808.3L1219.2 830.3L1197.2 852.3ZM1175.2 830.3H1219.2M1197.2 808.3V852.3M1184.2 832.3L1206.2 810.3L1228.2 832.3L1206.2 854.3ZM1184.2 832.3H1228.2M1206.2 810.3V854.3M1155.6 843.4L1177.6 821.4L1199.6 843.4L1177.6 865.4ZM1155.6 843.4H1199.6M1177.6 821.4V865.4M1211.5 858.8L1233.5 836.8L1255.5 858.8L1233.5 880.8ZM1211.5 858.8H1255.5M1233.5 836.8V880.8M1205.7 865.7L1227.7 843.7L1249.7 865.7L1227.7 887.7ZM1205.7 865.7H1249.7M1227.7 843.7V887.7M1175.2 891.5L1197.2 869.5L1219.2 891.5L1197.2 913.5ZM1175.2 891.5H1219.2M1197.2 869.5V913.5M1205.7 935.5L1227.7 913.5L1249.7 935.5L1227.7 957.5ZM1205.7 935.5H1249.7M1227.7 913.5V957.5M1150.6 961.7L1172.6 939.7L1194.6 961.7L1172.6 983.7ZM1150.6 961.7H1194.6M1172.6 939.7V983.7M1176.5 957.1L1198.5 935.1L1220.5 957.1L1198.5 979.1ZM1176.5 957.1H1220.5M1198.5 935.1V979.1M1176.5 1032.3L1198.5 1010.3L1220.5 1032.3L1198.5 1054.3ZM1176.5 1032.3H1220.5M1198.5 1010.3V1054.3M1247.2 910.4L1269.2 888.4L1291.2 910.4L1269.2 932.4ZM1247.2 910.4H1291.2M1269.2 888.4V932.4M1247.2 966.3L1269.2 944.3L1291.2 966.3L1269.2 988.3ZM1247.2 966.3H1291.2M1269.2 944.3V988.3M1243.4 1028.7L1265.4 1006.7L1287.4 1028.7L1265.4 1050.7ZM1243.4 1028.7H1287.4M1265.4 1006.7V1050.7M1243.4 1055.0L1265.4 1033.0L1287.4 1055.0L1265.4 1077.0ZM1243.4 1055.0H1287.4M1265.4 1033.0V1077.0M1291.0 1022.6L1313.0 1000.6L1335.0 1022.6L1313.0 1044.6ZM1291.0 1022.6H1335.0M1313.0 1000.6V1044.6M1293.0 1028.3L1315.0 1006.3L1337.0 1028.3L1315.0 1050.3ZM1293.0 1028.3H1337.0M1315.0 1006.3V1050.3M1296.8 1074.0L1318.8 1052.0L1340.8 1074.0L1318.8 1096.0ZM1296.8 1074.0H1340.8M1318.8 1052.0V1096.0M1278.8 1090.0L1300.8 1068.0L1322.8 1090.0L1300.8 1112.0ZM1278.8 1090.0H1322.8M1300.8 1068.0V1112.0M1292.3 1099.6L1314.3 1077.6L1336.3 1099.6L1314.3 1121.6ZM1292.3 1099.6H1336.3M1314.3 1077.6V1121.6M1292.3 1144.6L1314.3 1122.6L1336.3 1144.6L1314.3 1166.6ZM1292.3 1144.6H1336.3M1314.3 1122.6V1166.6M1292.8 1146.0L1314.8 1124.0L1336.8 1146.0L1314.8 1168.0ZM1292.8 1146.0H1336.8M1314.8 1124.0V1168.0M1337.9 1140.7L1359.9 1118.7L1381.9 1140.7L1359.9 1162.7ZM1337.9 1140.7H1381.9M1359.9 1118.7V1162.7M1338.5 1142.0L1360.5 1120.0L1382.5 1142.0L1360.5 1164.0ZM1338.5 1142.0H1382.5M1360.5 1120.0V1164.0M1237.7 1161.3L1259.7 1139.3L1281.7 1161.3L1259.7 1183.3ZM1237.7 1161.3H1281.7M1259.7 1139.3V1183.3M1238.5 1162.5L1260.5 1140.5L1282.5 1162.5L1260.5 1184.5ZM1238.5 1162.5H1282.5M1260.5 1140.5V1184.5M1262.8 1189.6L1284.8 1167.6L1306.8 1189.6L1284.8 1211.6ZM1262.8 1189.6H1306.8M1284.8 1167.6V1211.6M1278.8 1211.4L1300.8 1189.4L1322.8 1211.4L1300.8 1233.4ZM1278.8 1211.4H1322.8M1300.8 1189.4V1233.4M1318.7 1212.7L1340.7 1190.7L1362.7 1212.7L1340.7 1234.7ZM1318.7 1212.7H1362.7M1340.7 1190.7V1234.7M1321.9 1184.4L1343.9 1162.4L1365.9 1184.4L1343.9 1206.4ZM1321.9 1184.4H1365.9M1343.9 1162.4V1206.4M1316.1 1190.8L1338.1 1168.8L1360.1 1190.8L1338.1 1212.8ZM1316.1 1190.8H1360.1M1338.1 1168.8V1212.8M1353.3 1181.8L1375.3 1159.8L1397.3 1181.8L1375.3 1203.8ZM1353.3 1181.8H1397.3M1375.3 1159.8V1203.8M1374.5 1107.3L1396.5 1085.3L1418.5 1107.3L1396.5 1129.3ZM1374.5 1107.3H1418.5M1396.5 1085.3V1129.3M1356.5 1056.0L1378.5 1034.0L1400.5 1056.0L1378.5 1078.0ZM1356.5 1056.0H1400.5M1378.5 1034.0V1078.0M1356.5 1066.9L1378.5 1044.9L1400.5 1066.9L1378.5 1088.9ZM1356.5 1066.9H1400.5M1378.5 1044.9V1088.9M1456.9 1039.7L1478.9 1017.7L1500.9 1039.7L1478.9 1061.7ZM1456.9 1039.7H1500.9M1478.9 1017.7V1061.7M1480.3 1077.3L1502.3 1055.3L1524.3 1077.3L1502.3 1099.3ZM1480.3 1077.3H1524.3M1502.3 1055.3V1099.3M1429.9 1091.6L1451.9 1069.6L1473.9 1091.6L1451.9 1113.6ZM1429.9 1091.6H1473.9M1451.9 1069.6V1113.6M1423.7 1109.1L1445.7 1087.1L1467.7 1109.1L1445.7 1131.1ZM1423.7 1109.1H1467.7M1445.7 1087.1V1131.1M1423.7 1115.8L1445.7 1093.8L1467.7 1115.8L1445.7 1137.8ZM1423.7 1115.8H1467.7M1445.7 1093.8V1137.8M1460.9 1100.6L1482.9 1078.6L1504.9 1100.6L1482.9 1122.6ZM1460.9 1100.6H1504.9M1482.9 1078.6V1122.6M1406.2 1147.4L1428.2 1125.4L1450.2 1147.4L1428.2 1169.4ZM1406.2 1147.4H1450.2M1428.2 1125.4V1169.4M1449.0 1148.0L1471.0 1126.0L1493.0 1148.0L1471.0 1170.0ZM1449.0 1148.0H1493.0M1471.0 1126.0V1170.0M1461.4 1177.3L1483.4 1155.3L1505.4 1177.3L1483.4 1199.3ZM1461.4 1177.3H1505.4M1483.4 1155.3V1199.3M1377.5 1176.7L1399.5 1154.7L1421.5 1176.7L1399.5 1198.7ZM1377.5 1176.7H1421.5M1399.5 1154.7V1198.7M1383.7 1189.1L1405.7 1167.1L1427.7 1189.1L1405.7 1211.1ZM1383.7 1189.1H1427.7M1405.7 1167.1V1211.1M1416.9 1208.3L1438.9 1186.3L1460.9 1208.3L1438.9 1230.3ZM1416.9 1208.3H1460.9M1438.9 1186.3V1230.3M1405.6 1189.1L1427.6 1167.1L1449.6 1189.1L1427.6 1211.1ZM1405.6 1189.1H1449.6M1427.6 1167.1V1211.1M1278.7 896.4L1300.7 874.4L1322.7 896.4L1300.7 918.4ZM1278.7 896.4H1322.7M1300.7 874.4V918.4M1310.8 892.1L1332.8 870.1L1354.8 892.1L1332.8 914.1ZM1310.8 892.1H1354.8M1332.8 870.1V914.1M1297.8 925.9L1319.8 903.9L1341.8 925.9L1319.8 947.9ZM1297.8 925.9H1341.8M1319.8 903.9V947.9M1328.2 918.1L1350.2 896.1L1372.2 918.1L1350.2 940.1ZM1328.2 918.1H1372.2M1350.2 896.1V940.1M1297.0 974.4L1319.0 952.4L1341.0 974.4L1319.0 996.4ZM1297.0 974.4H1341.0M1319.0 952.4V996.4M1297.0 984.8L1319.0 962.8L1341.0 984.8L1319.0 1006.8ZM1297.0 984.8H1341.0M1319.0 962.8V1006.8M1329.0 997.9L1351.0 975.9L1373.0 997.9L1351.0 1019.9ZM1329.0 997.9H1373.0M1351.0 975.9V1019.9M1290.0 1003.9L1312.0 981.9L1334.0 1003.9L1312.0 1025.9ZM1290.0 1003.9H1334.0M1312.0 981.9V1025.9M1374.1 975.3L1396.1 953.3L1418.1 975.3L1396.1 997.3ZM1374.1 975.3H1418.1M1396.1 953.3V997.3M1417.5 972.7L1439.5 950.7L1461.5 972.7L1439.5 994.7ZM1417.5 972.7H1461.5M1439.5 950.7V994.7M1429.6 919.8L1451.6 897.8L1473.6 919.8L1451.6 941.8ZM1429.6 919.8H1473.6M1451.6 897.8V941.8M1479.9 963.2L1501.9 941.2L1523.9 963.2L1501.9 985.2ZM1479.9 963.2H1523.9M1501.9 941.2V985.2M1414.1 785.0L1436.1 763.0L1458.1 785.0L1436.1 807.0ZM1414.1 785.0H1458.1M1436.1 763.0V807.0M1416.5 829.4L1438.5 807.4L1460.5 829.4L1438.5 851.4ZM1416.5 829.4H1460.5M1438.5 807.4V851.4M1278.0 817.0L1300.0 795.0L1322.0 817.0L1300.0 839.0ZM1278.0 817.0H1322.0M1300.0 795.0V839.0M1345.8 859.6L1367.8 837.6L1389.8 859.6L1367.8 881.6ZM1345.8 859.6H1389.8M1367.8 837.6V881.6M1345.8 869.1L1367.8 847.1L1389.8 869.1L1367.8 891.1ZM1345.8 869.1H1389.8M1367.8 847.1V891.1M1298.1 878.5L1320.1 856.5L1342.1 878.5L1320.1 900.5ZM1298.1 878.5H1342.1M1320.1 856.5V900.5M1423.5 1146.0L1445.5 1124.0L1467.5 1146.0L1445.5 1168.0ZM1423.5 1146.0H1467.5M1445.5 1124.0V1168.0M1415.4 1161.9L1437.4 1139.9L1459.4 1161.9L1437.4 1183.9ZM1415.4 1161.9H1459.4M1437.4 1139.9V1183.9M1418.0 1118.0L1440.0 1096.0L1462.0 1118.0L1440.0 1140.0ZM1418.0 1118.0H1462.0M1440.0 1096.0V1140.0M1422.5 1139.5L1444.5 1117.5L1466.5 1139.5L1444.5 1161.5ZM1422.5 1139.5H1466.5M1444.5 1117.5V1161.5M1424.0 1130.0L1446.0 1108.0L1468.0 1130.0L1446.0 1152.0ZM1424.0 1130.0H1468.0M1446.0 1108.0V1152.0M1297.8 882.5L1319.8 860.5L1341.8 882.5L1319.8 904.5ZM1297.8 882.5H1341.8M1319.8 860.5V904.5M1298.5 895.5L1320.5 873.5L1342.5 895.5L1320.5 917.5ZM1298.5 895.5H1342.5M1320.5 873.5V917.5" fill="none" stroke="#ff0000" stroke-width="2.4" stroke-linejoin="miter"/>
<g clip-path="url(#pc)"><path d="M256.7 362.7L321.2 371.5M345.0 374.6L362.8 377.0M386.7 380.1L451.1 388.5M474.6 391.9L492.4 394.3M516.3 397.3L579.9 405.8M602.9 412.1L620.3 416.3M643.8 421.2L707.2 439.5M729.4 446.0L746.6 451.6M769.0 459.4L828.9 482.6M851.1 491.4L867.7 498.6M890.5 509.1L946.8 536.9M967.1 547.2L982.9 555.6M1001.1 565.8L1052.0 593.5M1071.6 608.5L1086.6 618.5M1104.5 629.0L1152.8 660.2M1169.0 673.3L1183.4 683.9M1204.0 698.0L1252.8 734.7M1267.8 745.8L1282.0 756.8M1297.9 769.6L1344.9 807.4M1361.1 820.7L1375.1 832.1M1391.7 845.7L1444.4 891.1M1457.2 901.9L1470.8 913.7M1483.3 925.0L1506.7 944.1" fill="none" stroke="#ff0000" stroke-width="10.4" stroke-linejoin="round" stroke-linecap="butt"/></g>
<rect x="259.5" y="1214.7" width="949.3" height="201.3" fill="#fff" stroke="#000" stroke-width="2.3"/>
<rect x="259.5" y="1418.4" width="949.3" height="203.4" fill="#fff" stroke="#000" stroke-width="2.3"/>
<path d="M329.6 1264.1L351.6 1242.1L373.6 1264.1L351.6 1286.1ZM329.6 1264.1H373.6M351.6 1242.1V1286.1" fill="none" stroke="#ff0000" stroke-width="2.4"/>
<line x1="266" y1="1352" x2="437" y2="1352" stroke="#ff0000" stroke-width="10" stroke-dasharray="65 23 18.5 23"/>
<path d="M324.9 1465.5a17.6 17.6 0 1 0 35.2 0a17.6 17.6 0 1 0 -35.2 0ZM324.9 1465.5H360.1M342.5 1447.9V1483.1" fill="none" stroke="#00ffff" stroke-width="2.4"/>
<line x1="266" y1="1553" x2="419" y2="1553" stroke="#000" stroke-width="10"/>
<text transform="translate(450.18,1288.10) scale(0.7116,0.7189)" font-size="100">Third group</text>
<text transform="translate(448.96,1492.23) scale(0.7139,0.7033)" font-size="100">Fifth group</text>
<text transform="translate(450.56,1376.08) scale(0.7207,0.7011)" font-size="100">The fitting curve of</text>
<text transform="translate(1022.37,1375.60) scale(0.7685,0.7200)" font-size="100" font-style="italic">M</text>
<text transform="translate(1082.12,1394.50) scale(0.5262,0.5000)" font-size="100">S</text>
<text transform="translate(1109.49,1375.86) scale(0.7067,0.7394)" font-size="100">4.5</text>
<text transform="translate(450.56,1580.28) scale(0.7207,0.7011)" font-size="100">The fitting curve of</text>
<text transform="translate(1022.37,1579.80) scale(0.7685,0.7200)" font-size="100" font-style="italic">M</text>
<text transform="translate(1082.12,1598.70) scale(0.5262,0.5000)" font-size="100">S</text>
<text transform="translate(1108.61,1579.53) scale(0.7322,0.7328)" font-size="100">5.0</text>
<g id="axes"><rect x="259.5" y="38.0" width="1254.3" height="1583.8" fill="none" stroke="#000" stroke-width="5.5"/><line x1="229.8" y1="1621.8" x2="259.5" y2="1621.8" stroke="#000" stroke-width="5.5"/><line x1="229.8" y1="1035.0" x2="259.5" y2="1035.0" stroke="#000" stroke-width="5.5"/><line x1="229.8" y1="448.2" x2="259.5" y2="448.2" stroke="#000" stroke-width="5.5"/><line x1="229.8" y1="271.6" x2="259.5" y2="271.6" stroke="#000" stroke-width="5.5"/><line x1="229.8" y1="168.2" x2="259.5" y2="168.2" stroke="#000" stroke-width="5.5"/><line x1="229.8" y1="94.9" x2="259.5" y2="94.9" stroke="#000" stroke-width="5.5"/><line x1="229.8" y1="38.0" x2="259.5" y2="38.0" stroke="#000" stroke-width="5.5"/><line x1="244.8" y1="1445.2" x2="259.5" y2="1445.2" stroke="#000" stroke-width="5.5"/><line x1="244.8" y1="1341.8" x2="259.5" y2="1341.8" stroke="#000" stroke-width="5.5"/><line x1="244.8" y1="1268.5" x2="259.5" y2="1268.5" stroke="#000" stroke-width="5.5"/><line x1="244.8" y1="1211.6" x2="259.5" y2="1211.6" stroke="#000" stroke-width="5.5"/><line x1="244.8" y1="1165.2" x2="259.5" y2="1165.2" stroke="#000" stroke-width="5.5"/><line x1="244.8" y1="1125.9" x2="259.5" y2="1125.9" stroke="#000" stroke-width="5.5"/><line x1="244.8" y1="1091.9" x2="259.5" y2="1091.9" stroke="#000" stroke-width="5.5"/><line x1="244.8" y1="1061.9" x2="259.5" y2="1061.9" stroke="#000" stroke-width="5.5"/><line x1="244.8" y1="858.4" x2="259.5" y2="858.4" stroke="#000" stroke-width="5.5"/><line x1="244.8" y1="755.0" x2="259.5" y2="755.0" stroke="#000" stroke-width="5.5"/><line x1="244.8" y1="681.7" x2="259.5" y2="681.7" stroke="#000" stroke-width="5.5"/><line x1="244.8" y1="624.8" x2="259.5" y2="624.8" stroke="#000" stroke-width="5.5"/><line x1="244.8" y1="578.4" x2="259.5" y2="578.4" stroke="#000" stroke-width="5.5"/><line x1="244.8" y1="539.1" x2="259.5" y2="539.1" stroke="#000" stroke-width="5.5"/><line x1="244.8" y1="505.1" x2="259.5" y2="505.1" stroke="#000" stroke-width="5.5"/><line x1="244.8" y1="475.1" x2="259.5" y2="475.1" stroke="#000" stroke-width="5.5"/><line x1="244.8" y1="344.9" x2="259.5" y2="344.9" stroke="#000" stroke-width="5.5"/><line x1="244.8" y1="214.7" x2="259.5" y2="214.7" stroke="#000" stroke-width="5.5"/><line x1="244.8" y1="128.9" x2="259.5" y2="128.9" stroke="#000" stroke-width="5.5"/><line x1="244.8" y1="64.9" x2="259.5" y2="64.9" stroke="#000" stroke-width="5.5"/><line x1="259.5" y1="1621.8" x2="259.5" y2="1651.3" stroke="#000" stroke-width="5.5"/><line x1="874.0" y1="1621.8" x2="874.0" y2="1651.3" stroke="#000" stroke-width="5.5"/><line x1="1488.5" y1="1621.8" x2="1488.5" y2="1651.3" stroke="#000" stroke-width="5.5"/><line x1="444.5" y1="1621.8" x2="444.5" y2="1636" stroke="#000" stroke-width="5.5"/><line x1="552.7" y1="1621.8" x2="552.7" y2="1636" stroke="#000" stroke-width="5.5"/><line x1="629.5" y1="1621.8" x2="629.5" y2="1636" stroke="#000" stroke-width="5.5"/><line x1="689.0" y1="1621.8" x2="689.0" y2="1636" stroke="#000" stroke-width="5.5"/><line x1="737.7" y1="1621.8" x2="737.7" y2="1636" stroke="#000" stroke-width="5.5"/><line x1="778.8" y1="1621.8" x2="778.8" y2="1636" stroke="#000" stroke-width="5.5"/><line x1="814.4" y1="1621.8" x2="814.4" y2="1636" stroke="#000" stroke-width="5.5"/><line x1="845.9" y1="1621.8" x2="845.9" y2="1636" stroke="#000" stroke-width="5.5"/><line x1="1059.0" y1="1621.8" x2="1059.0" y2="1636" stroke="#000" stroke-width="5.5"/><line x1="1167.2" y1="1621.8" x2="1167.2" y2="1636" stroke="#000" stroke-width="5.5"/><line x1="1244.0" y1="1621.8" x2="1244.0" y2="1636" stroke="#000" stroke-width="5.5"/><line x1="1303.5" y1="1621.8" x2="1303.5" y2="1636" stroke="#000" stroke-width="5.5"/><line x1="1352.2" y1="1621.8" x2="1352.2" y2="1636" stroke="#000" stroke-width="5.5"/><line x1="1393.3" y1="1621.8" x2="1393.3" y2="1636" stroke="#000" stroke-width="5.5"/><line x1="1428.9" y1="1621.8" x2="1428.9" y2="1636" stroke="#000" stroke-width="5.5"/><line x1="1460.4" y1="1621.8" x2="1460.4" y2="1636" stroke="#000" stroke-width="5.5"/></g>
<text transform="translate(208.8,1646.30) scale(0.635,0.675)" font-size="100" text-anchor="end">1</text>
<text transform="translate(208.8,1059.50) scale(0.635,0.675)" font-size="100" text-anchor="end">10</text>
<text transform="translate(208.8,472.70) scale(0.635,0.675)" font-size="100" text-anchor="end">100</text>
<text transform="translate(208.8,296.06) scale(0.635,0.675)" font-size="100" text-anchor="end">200</text>
<text transform="translate(208.8,192.73) scale(0.635,0.675)" font-size="100" text-anchor="end">300</text>
<text transform="translate(208.8,119.41) scale(0.635,0.675)" font-size="100" text-anchor="end">400</text>
<text transform="translate(208.8,62.54) scale(0.635,0.675)" font-size="100" text-anchor="end">500</text>
<text transform="translate(259.50,1725.5) scale(0.635,0.675)" font-size="100" text-anchor="middle">1</text>
<text transform="translate(874.00,1725.5) scale(0.635,0.675)" font-size="100" text-anchor="middle">10</text>
<text transform="translate(1488.50,1725.5) scale(0.635,0.675)" font-size="100" text-anchor="middle">100</text>
<text transform="translate(807.31,1832.60) scale(0.5625,0.8046)" font-size="100">R</text>
<text transform="translate(848.00,1839.85) scale(1.3214,1.0515)" font-size="100" stroke="#fff" stroke-width="2.2">/</text>
<text transform="translate(886.66,1832.60) scale(0.7208,0.8000)" font-size="100">k</text>
<text transform="translate(925.97,1832.60) scale(0.5149,0.7532)" font-size="100">m</text>
<g transform="rotate(-90)"><text transform="translate(-970.31,83.80) scale(0.7020,0.8185)" font-size="100">P</text><text transform="translate(-930.90,82.69) scale(0.5492,0.8075)" font-size="100">G</text><text transform="translate(-890.53,84.53) scale(0.5271,0.8277)" font-size="100">A</text><text transform="translate(-850.70,91.14) scale(1.2964,1.0606)" font-size="100" stroke="#fff" stroke-width="2.2">/</text><text transform="translate(-811.23,82.02) scale(0.7568,0.6562)" font-size="100">g</text><text transform="translate(-773.40,83.15) scale(0.9000,0.7500)" font-size="100">a</text><text transform="translate(-727.11,83.90) scale(1.0042,0.8072)" font-size="100">l</text></g>
</svg></body></html>
